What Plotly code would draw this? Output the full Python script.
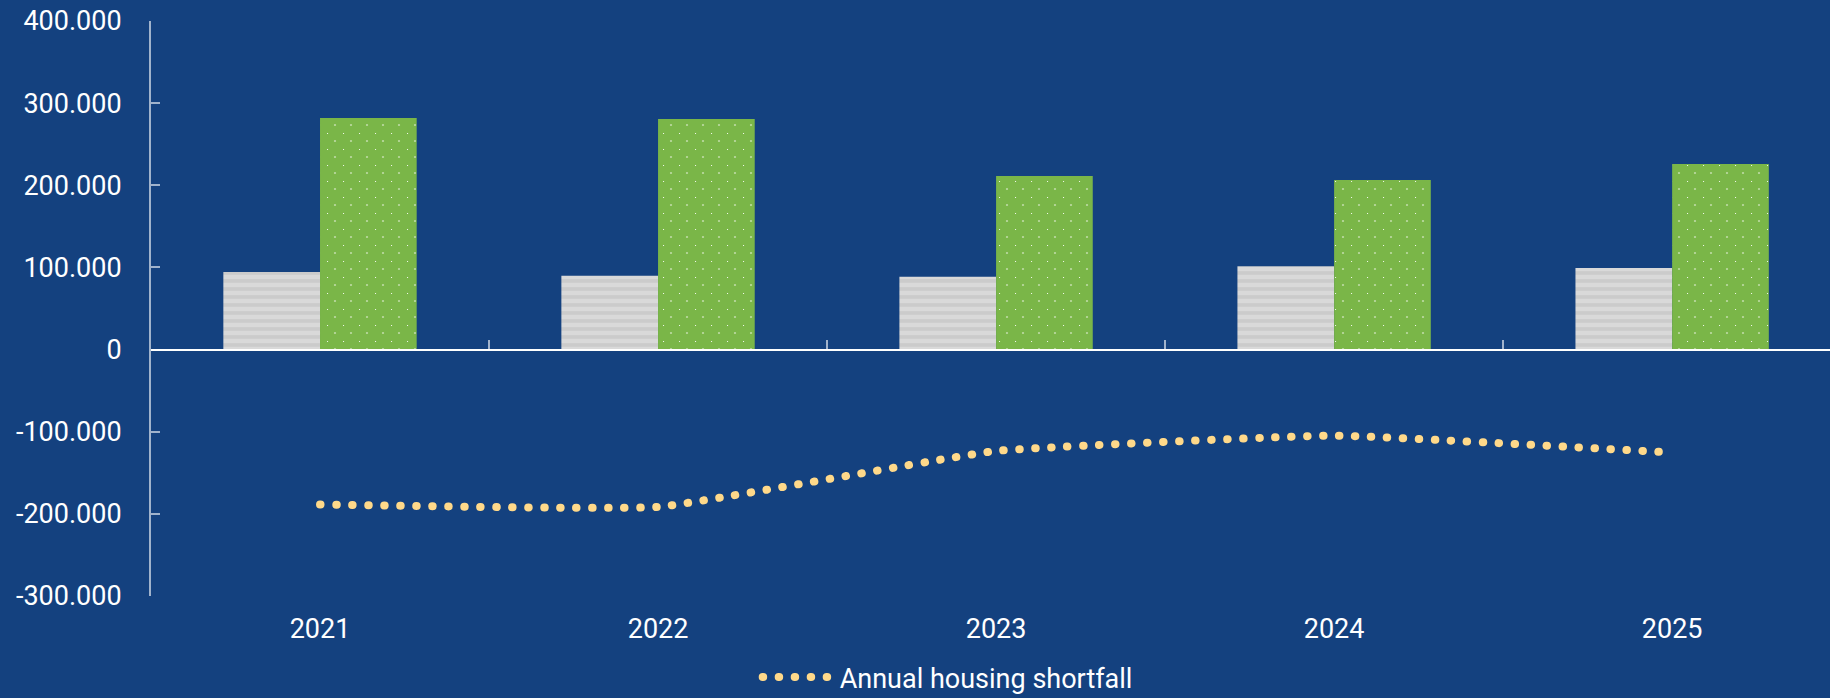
import plotly.graph_objects as go

# ---- data ----
years = ["2021", "2022", "2023", "2024", "2025"]
completions = [94500, 90000, 88800, 101300, 99400]
housing_need = [281900, 280600, 211200, 206400, 225900]
shortfall = [-188600, -191600, -123400, -104700, -125400]
y_tick_vals = [-300000, -200000, -100000, 0, 100000, 200000, 300000, 400000]
y_tick_text = ["-300.000", "-200.000", "-100.000", "0", "100.000", "200.000", "300.000", "400.000"]

BG = "#14417f"
AXIS = "rgba(255,255,255,0.6)"
FONT = "Roboto"
xrange = [-0.5, 4.467]

fig = go.Figure()
fig.add_trace(go.Bar(
    x=years, y=completions, name="Housing completions", showlegend=False,
    marker=dict(color="#d9d9d9", line=dict(width=0),
                pattern=dict(shape="-", bgcolor="#d9d9d9", fgcolor="#bdbdbd",
                             size=8, solidity=0.45)),
))
fig.add_trace(go.Bar(
    x=years, y=housing_need, name="Housing need", showlegend=False,
    marker=dict(color="#7ab648", line=dict(width=0),
                pattern=dict(shape=".", bgcolor="#7ab648", fgcolor="#ffffff",
                             size=16, solidity=0.015)),
))
fig.add_trace(go.Scatter(
    x=years, y=shortfall, name="Annual housing shortfall",
    xaxis="x2", yaxis="y", mode="lines",
    line=dict(shape="spline", smoothing=0.3, color="#ffd98a", width=8,
              dash="0.5px,15.5px"),
))

fig.update_layout(
    width=1830, height=698,
    margin=dict(l=151, r=0, t=21, b=102, pad=0, autoexpand=False),
    paper_bgcolor=BG, plot_bgcolor=BG,
    font=dict(family=FONT, size=27, color="#ffffff"),
    barmode="group", bargap=0.428, bargroupgap=0,
    hovermode=False,
    xaxis=dict(type="category", range=xrange, showline=False, showgrid=False,
               zeroline=False, ticks="", ticklabelstandoff=14,
               tickfont=dict(family=FONT, size=27, color="#ffffff")),
    xaxis2=dict(type="category", overlaying="x", anchor="free", position=3/7,
                categoryorder="array", categoryarray=years, range=xrange,
                tickson="boundaries", ticks="inside", ticklen=9, tickwidth=2,
                tickcolor=AXIS, showticklabels=False, showline=True,
                linecolor="#ffffff", linewidth=1.5, showgrid=False, zeroline=False,
                side="bottom"),
    yaxis=dict(range=[-300000, 400000], tickvals=y_tick_vals, ticktext=y_tick_text,
               ticks="inside", ticklen=9, tickwidth=2, tickcolor=AXIS,
               showline=True, linecolor=AXIS, linewidth=2, showgrid=False,
               zeroline=False, ticklabelstandoff=22,
               tickfont=dict(family=FONT, size=27, color="#ffffff")),
    showlegend=True,
    legend=dict(orientation="h", x=0.4745, xanchor="center", y=-0.099, yanchor="top",
                font=dict(family=FONT, size=27, color="#ffffff"),
                bgcolor="rgba(0,0,0,0)", itemwidth=72, borderwidth=0),
)

post = """
document.documentElement.style.margin='0';
document.body.style.margin='0';
document.body.style.padding='0';
document.body.style.background='""" + BG + """';
var st=document.createElement('style');
st.innerHTML='path.js-line{stroke-linecap:round !important;}';
document.head.appendChild(st);
document.querySelectorAll('pattern').forEach(function(p){
  var c=p.querySelector('circle'); if(!c) return;
  var w=+p.getAttribute('width'), h=+p.getAttribute('height');
  [[0,0],[w,0],[0,h],[w,h]].forEach(function(xy){
    var n=c.cloneNode(); n.setAttribute('cx',xy[0]); n.setAttribute('cy',xy[1]); p.appendChild(n);
  });
});
"""
fig.write_html("out.html", post_script=post, config={"displayModeBar": False})
